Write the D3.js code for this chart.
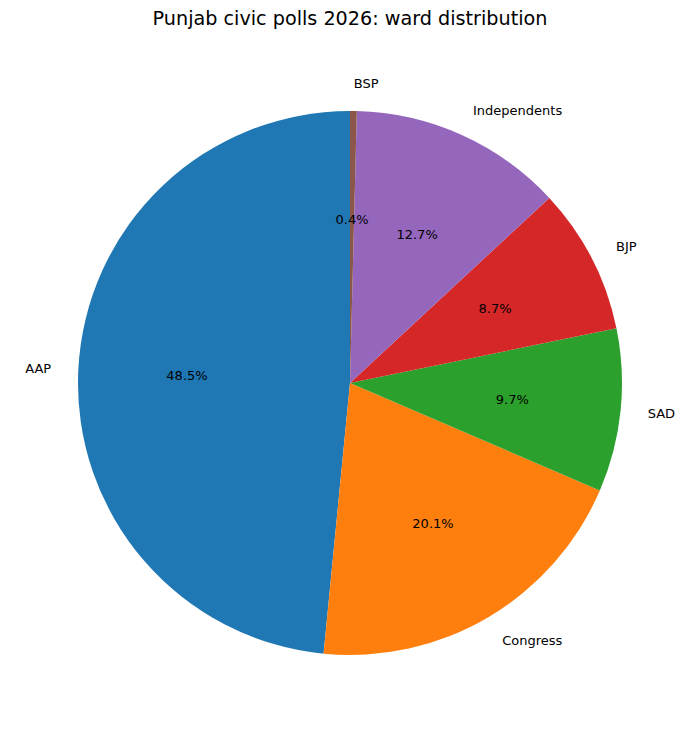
<!DOCTYPE html>
<html>
<head>
<meta charset="utf-8">
<script src="https://cdn.jsdelivr.net/npm/d3@7"></script>
<style>
  body { margin: 0; background: #fff; }
  text { font-family: "DejaVu Sans", sans-serif; fill: #000; }
</style>
</head>
<body>
<script>
// party shares (percent)
var parties = ["AAP", "Congress", "SAD", "BJP", "Independents", "BSP"];
var shares = [48.5, 20.1, 9.7, 8.7, 12.7, 0.4];
var colors = ["#1f77b4", "#ff7f0e", "#2ca02c", "#d62728", "#9467bd", "#8c564b"];

var width = 700, height = 733;
var cx = 350, cy = 383, radius = 272;

var data = parties.map(function(p, i) { return {party: p, value: shares[i], color: colors[i]}; });
var total = d3.sum(shares);

var svg = d3.select("body").append("svg").attr("width", width).attr("height", height);

svg.append("text")
    .attr("x", width / 2)
    .attr("y", 25)
    .attr("text-anchor", "middle")
    .style("font-size", "19.2px")
    .text("Punjab civic polls 2026: ward distribution");

// matplotlib style: start at top, go counterclockwise
var pie = d3.pie().value(function(d) { return d.value; }).sort(null)
    .startAngle(0).endAngle(-2 * Math.PI);

var arc = d3.arc().innerRadius(0).outerRadius(radius);

var g = svg.append("g").attr("transform", "translate(" + cx + "," + cy + ")");
var arcs = pie(data);

g.selectAll("path")
    .data(arcs)
    .enter()
    .append("path")
    .attr("d", arc)
    .attr("fill", function(d) { return d.data.color; });

function mid(d) { return (d.startAngle + d.endAngle) / 2; }

g.selectAll("text.label")
    .data(arcs)
    .enter()
    .append("text")
    .attr("class", "label")
    .attr("x", function(d) { return Math.sin(mid(d)) * radius * 1.1; })
    .attr("y", function(d) { return -Math.cos(mid(d)) * radius * 1.1; })
    .attr("dy", "0.35em")
    .attr("text-anchor", function(d) { return Math.sin(mid(d)) < 0 ? "end" : "start"; })
    .style("font-size", "13px")
    .text(function(d) { return d.data.party; });

g.selectAll("text.pct")
    .data(arcs)
    .enter()
    .append("text")
    .attr("class", "pct")
    .attr("x", function(d) { return Math.sin(mid(d)) * radius * 0.6; })
    .attr("y", function(d) { return -Math.cos(mid(d)) * radius * 0.6; })
    .attr("dy", "0.35em")
    .attr("text-anchor", "middle")
    .style("font-size", "13px")
    .text(function(d) { return (d.data.value / total * 100).toFixed(1) + "%"; });
</script>
</body>
</html>
